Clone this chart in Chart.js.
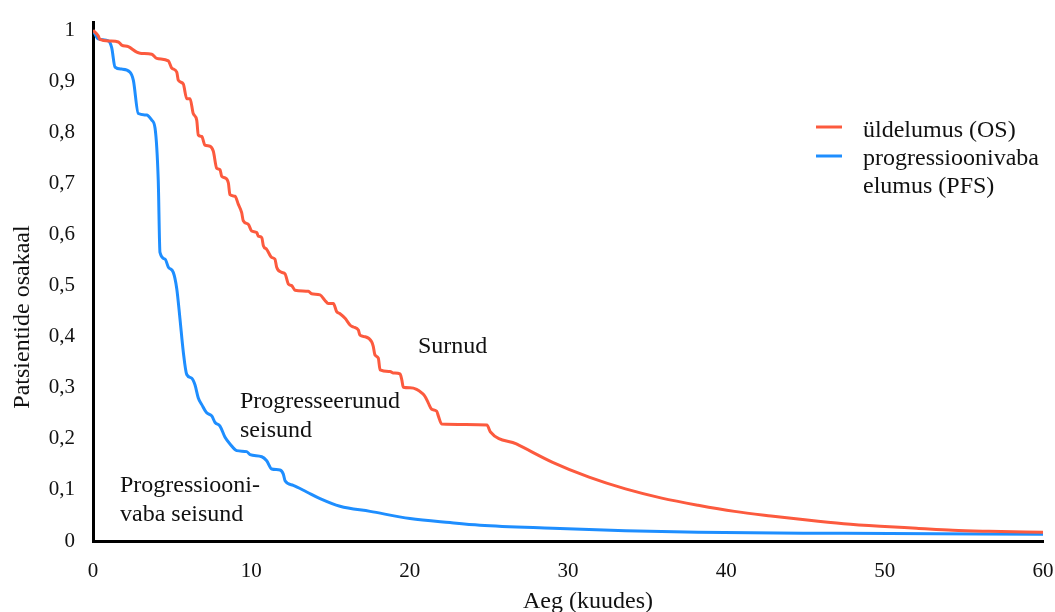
<!DOCTYPE html>
<html lang="et">
<head>
    <meta charset="UTF-8">
    <title>Üldelumus ja progressioonivaba elumus</title>
    <script src="https://cdn.jsdelivr.net/npm/chart.js"></script>
    <style>
        html, body { margin: 0; padding: 0; background: #fff; }
        canvas { display: block; }
    </style>
</head>
<body>
    <canvas id="myChart" width="1055" height="612"></canvas>

    <script>
        // andmed loetud jooniselt (aeg kuudes, patsientide osakaal)
        const osTime = [0, 0.33, 0.44, 1.07, 1.60, 1.81, 2.23, 2.76, 2.97, 3.71, 4.02, 4.76, 4.97, 5.29, 5.39, 5.70, 5.92, 6.13, 6.33, 6.55, 6.65, 6.87, 7.07, 7.39, 7.60, 7.81, 8.02, 8.13, 8.34, 8.55, 8.65, 8.97, 9.18, 9.39, 9.49, 9.81, 10.02, 10.34, 10.44, 10.66, 10.76, 10.97, 11.29, 11.49, 11.60, 11.92, 12.13, 12.34, 12.55, 12.76, 13.60, 13.81, 14.34, 14.65, 14.86, 15.18, 15.39, 15.60, 15.92, 16.23, 16.44, 16.76, 16.86, 17.18, 17.60, 17.70, 17.81, 18.02, 18.13, 18.76, 18.97, 19.39, 19.50, 19.60, 20.02, 20.44, 20.76, 20.97, 21.18, 21.39, 21.71, 21.81, 22.02, 24.88, 25.09, 26.74, 29.03, 31.33, 33.63, 35.92, 38.22, 40.52, 42.82, 45.10, 47.41, 49.71, 52.01, 54.30, 56.59, 60];
        const osValues = [1.0, 0.989, 0.982, 0.979, 0.977, 0.971, 0.968, 0.957, 0.955, 0.953, 0.945, 0.940, 0.926, 0.918, 0.902, 0.895, 0.866, 0.866, 0.837, 0.824, 0.795, 0.792, 0.775, 0.773, 0.763, 0.730, 0.727, 0.714, 0.711, 0.701, 0.678, 0.675, 0.659, 0.643, 0.627, 0.620, 0.607, 0.604, 0.597, 0.594, 0.578, 0.571, 0.555, 0.552, 0.536, 0.526, 0.523, 0.503, 0.500, 0.491, 0.489, 0.484, 0.482, 0.471, 0.465, 0.465, 0.449, 0.445, 0.436, 0.423, 0.419, 0.413, 0.403, 0.400, 0.390, 0.381, 0.364, 0.358, 0.335, 0.332, 0.329, 0.327, 0.316, 0.301, 0.300, 0.297, 0.290, 0.283, 0.270, 0.258, 0.254, 0.245, 0.229, 0.227, 0.214, 0.190, 0.154, 0.125, 0.102, 0.084, 0.070, 0.058, 0.049, 0.041, 0.034, 0.029, 0.025, 0.021, 0.019, 0.017];

        const pfsTime = [0, 0.33, 0.97, 1.18, 1.39, 1.81, 2.34, 2.55, 2.86, 3.39, 3.71, 3.92, 4.12, 4.23, 4.55, 4.76, 5.07, 5.29, 5.49, 5.70, 5.92, 6.23, 6.44, 6.65, 6.87, 7.18, 7.50, 7.71, 8.02, 8.34, 8.65, 9.08, 9.71, 9.92, 10.66, 10.97, 11.29, 11.81, 12.02, 12.13, 12.65, 13.50, 14.34, 15.60, 17.50, 20.02, 22.55, 24.44, 29.03, 33.63, 38.21, 47.41, 60];
        const pfsValues = [1.0, 0.983, 0.979, 0.966, 0.928, 0.924, 0.918, 0.902, 0.837, 0.834, 0.824, 0.808, 0.707, 0.565, 0.552, 0.536, 0.526, 0.494, 0.436, 0.371, 0.326, 0.319, 0.306, 0.280, 0.267, 0.251, 0.245, 0.232, 0.225, 0.203, 0.190, 0.177, 0.175, 0.169, 0.165, 0.157, 0.141, 0.139, 0.131, 0.118, 0.109, 0.096, 0.083, 0.068, 0.058, 0.044, 0.036, 0.031, 0.025, 0.020, 0.017, 0.015, 0.013];

        const xTicks = [0, 10, 20, 30, 40, 50, 60];
        const yTicks = [0, 0.1, 0.2, 0.3, 0.4, 0.5, 0.6, 0.7, 0.8, 0.9, 1];

        const seriesNames = [['üldelumus (OS)'], ['progressioonivaba', 'elumus (PFS)']];
        const regionLabels = [
            { text: ['Surnud'], x: 418, y: 353 },
            { text: ['Progresseerunud', 'seisund'], x: 240, y: 408 },
            { text: ['Progressiooni-', 'vaba seisund'], x: 120, y: 492 }
        ];

        const RED = 'rgb(252, 90, 62)';
        const BLUE = 'rgb(30, 142, 255)';
        const SERIF = '"Liberation Serif", "DejaVu Serif", serif';

        function toPoints(xs, ys) {
            return xs.map((x, i) => ({ x: x, y: ys[i] }));
        }

        // tekstid: teljepealkirjad, legend ja alade nimed
        const textPlugin = {
            id: 'texts',
            afterDraw(chart) {
                const ctx = chart.ctx;
                ctx.save();
                ctx.fillStyle = '#111';
                ctx.font = '24px ' + SERIF;
                ctx.textBaseline = 'alphabetic';

                // y-telje pealkiri
                ctx.save();
                ctx.translate(29, 317);
                ctx.rotate(-Math.PI / 2);
                ctx.textAlign = 'center';
                ctx.fillText('Patsientide osakaal', 0, 0);
                ctx.restore();

                // x-telje pealkiri
                ctx.textAlign = 'center';
                ctx.fillText('Aeg (kuudes)', 588, 608);

                // alade nimed
                ctx.textAlign = 'left';
                regionLabels.forEach(lbl => {
                    lbl.text.forEach((line, i) => ctx.fillText(line, lbl.x, lbl.y + i * 29));
                });

                // legend
                const colors = chart.data.datasets.map(d => d.borderColor);
                const lineY = [127, 156];
                const textY = [[137], [165, 193]];
                ctx.lineWidth = 3;
                seriesNames.forEach((lines, i) => {
                    ctx.strokeStyle = colors[i];
                    ctx.beginPath();
                    ctx.moveTo(816, lineY[i]);
                    ctx.lineTo(842, lineY[i]);
                    ctx.stroke();
                    lines.forEach((line, j) => ctx.fillText(line, 863, textY[i][j]));
                });
                ctx.restore();
            }
        };

        const ctx = document.getElementById('myChart').getContext('2d');
        const myChart = new Chart(ctx, {
            type: 'line',
            data: {
                datasets: [{
                    label: seriesNames[0].join(' '),
                    data: toPoints(osTime, osValues),
                    borderColor: RED,
                    borderWidth: 3,
                    pointRadius: 0,
                    cubicInterpolationMode: 'monotone',
                    fill: false
                }, {
                    label: seriesNames[1].join(' '),
                    data: toPoints(pfsTime, pfsValues),
                    borderColor: BLUE,
                    borderWidth: 3,
                    pointRadius: 0,
                    cubicInterpolationMode: 'monotone',
                    fill: false
                }]
            },
            options: {
                responsive: false,
                animation: false,
                layout: { padding: { top: 18, right: 12, left: 0, bottom: 0 } },
                plugins: {
                    legend: { display: false },
                    tooltip: { enabled: false }
                },
                scales: {
                    x: {
                        type: 'linear',
                        min: 0,
                        max: 60,
                        grid: { display: false },
                        border: { color: '#000', width: 3 },
                        afterBuildTicks: s => { s.ticks = xTicks.map(v => ({ value: v })); },
                        afterFit: s => {
                            s.height = 71;
                            s.paddingLeft = 0;
                            s.paddingRight = 0;
                        },
                        ticks: {
                            padding: 10,
                            color: '#111',
                            font: { family: SERIF, size: 21 },
                            maxRotation: 0
                        }
                    },
                    y: {
                        min: 0,
                        max: 1.015,
                        grid: { display: false },
                        border: { color: '#000', width: 3 },
                        afterBuildTicks: s => { s.ticks = yTicks.map(v => ({ value: v })); },
                        afterFit: s => { s.width = 93; },
                        ticks: {
                            padding: 10,
                            color: '#111',
                            font: { family: SERIF, size: 21 },
                            callback: v => String(Math.round(v * 10) / 10).replace('.', ',')
                        }
                    }
                }
            },
            plugins: [textPlugin]
        });
    </script>
</body>
</html>
